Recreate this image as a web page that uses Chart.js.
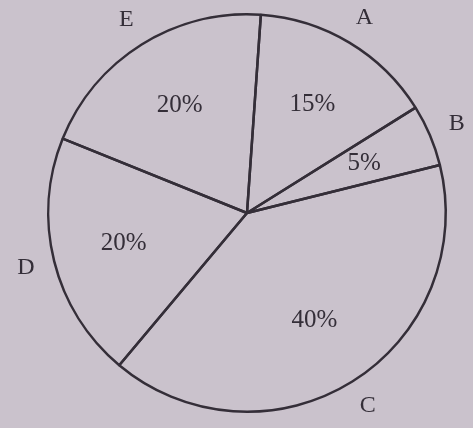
<!DOCTYPE html>
<html>
<head>
<meta charset="utf-8">
<script src="https://cdn.jsdelivr.net/npm/chart.js@4"></script>
<style>
  html, body { margin: 0; padding: 0; background: #cac2cc; }
  #wrap { width: 473px; height: 428px; position: relative; }
</style>
</head>
<body>
<div id="wrap"><canvas id="pieChart"></canvas></div>
<script>
// Dados do gráfico
const categories = ['A', 'B', 'C', 'D', 'E'];
const shares = [15, 5, 40, 20, 20];
const shareLabels = ['15%', '5%', '40%', '20%', '20%'];

const inkColor = '#342e38';

// Plugin para escrever as porcentagens e as letras
const sliceLabels = {
    id: 'sliceLabels',
    afterDatasetsDraw(chart) {
        const ctx = chart.ctx;
        const arcs = chart.getDatasetMeta(0).data;
        ctx.save();
        ctx.fillStyle = inkColor;
        ctx.textAlign = 'center';
        ctx.textBaseline = 'middle';
        arcs.forEach((arc, i) => {
            const p = arc.getProps(['x', 'y', 'startAngle', 'endAngle', 'outerRadius'], true);
            const mid = (p.startAngle + p.endAngle) / 2;
            const rIn = p.outerRadius * 0.64;
            const rOut = p.outerRadius + 29;
            ctx.font = '25px "Liberation Serif", serif';
            ctx.fillText(shareLabels[i], p.x + Math.cos(mid) * rIn, p.y + Math.sin(mid) * rIn);
            ctx.font = '24px "Liberation Serif", serif';
            ctx.fillText(categories[i], p.x + Math.cos(mid) * rOut, p.y + Math.sin(mid) * rOut);
        });
        ctx.restore();
    }
};

new Chart(document.getElementById('pieChart'), {
    type: 'pie',
    data: {
        labels: categories,
        datasets: [{
            data: shares,
            backgroundColor: 'rgba(0,0,0,0)',
            borderColor: inkColor,
            borderWidth: 2.5
        }]
    },
    options: {
        responsive: true,
        maintainAspectRatio: false,
        animation: false,
        rotation: 4,
        layout: { padding: { top: 13, bottom: 15, left: 47, right: 26 } },
        plugins: {
            legend: { display: false },
            tooltip: { enabled: false }
        }
    },
    plugins: [sliceLabels]
});
</script>
</body>
</html>
